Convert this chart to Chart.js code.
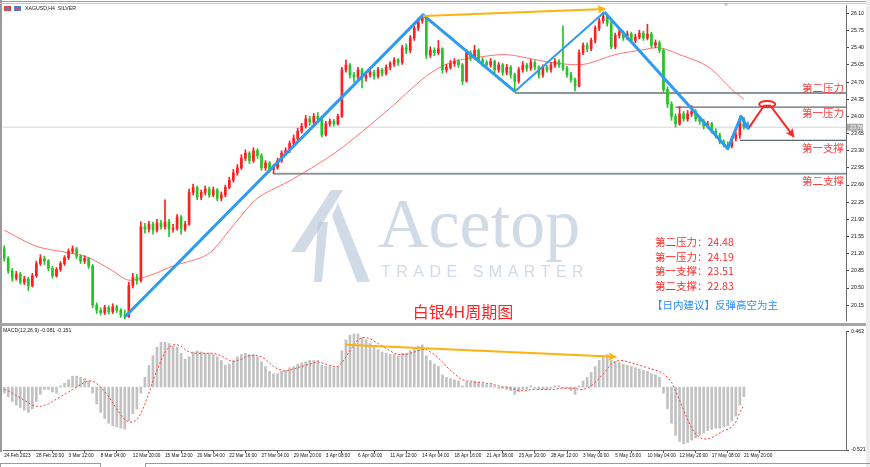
<!DOCTYPE html>
<html><head><meta charset="utf-8">
<script src="https://cdn.jsdelivr.net/npm/chart.js@4.4.1/dist/chart.umd.min.js"></script>
<style>
html,body{margin:0;padding:0;background:#fff;width:870px;height:467px;overflow:hidden}
canvas{position:absolute;left:0}
#c1{top:0}
#c2{top:326px}
</style></head><body>
<canvas id="c1" width="870" height="326"></canvas>
<canvas id="c2" width="870" height="141"></canvas>
<script>
// ---------------- data ----------------
const timeLabels = ["24 Feb 2023","28 Feb 20:00","3 Mar 12:00","8 Mar 04:00","12 Mar 20:00","15 Mar 12:00","20 Mar 04:00","22 Mar 16:00","27 Mar 04:00","29 Mar 20:00","3 Apr 08:00","6 Apr 00:00","11 Apr 12:00","14 Apr 04:00","18 Apr 16:00","21 Apr 08:00","25 Apr 20:00","28 Apr 12:00","3 May 00:00","5 May 16:00","10 May 04:00","12 May 20:00","17 May 08:00","21 May 20:00"];
const labelEvery = 8;
const priceTicks = [20.15,20.50,20.85,21.20,21.55,21.90,22.25,22.60,22.95,23.30,23.65,24.00,24.35,24.70,25.05,25.40,25.75,26.10];
const macdTicks = [-0.521, 0.463];

const opens = [21.30,21.10,20.85,20.70,20.78,20.62,20.68,20.55,20.75,21.00,
21.10,21.05,20.90,20.75,20.88,21.00,21.12,21.25,21.30,21.15,
21.05,21.10,20.95,20.15,20.05,20.00,20.10,20.02,20.12,20.05,
19.95,19.92,20.55,20.72,20.65,21.75,21.70,21.80,21.68,21.82,
21.75,21.85,21.70,21.72,21.95,21.70,21.80,22.45,22.55,22.35,
22.45,22.52,22.40,22.50,22.33,22.40,22.55,22.70,22.85,22.95,
23.15,23.25,23.10,23.30,23.20,22.95,23.05,22.92,22.96,23.10,
23.25,23.30,23.45,23.55,23.70,23.80,23.95,23.88,24.00,23.95,
23.62,23.85,23.90,23.85,24.00,24.95,25.05,24.85,24.80,24.95,
24.78,24.85,24.90,24.82,24.95,24.88,25.00,25.08,25.15,25.10,
25.40,25.35,25.60,25.80,25.95,26.02,25.25,25.35,25.30,25.38,
24.95,25.00,25.08,25.12,25.05,24.72,25.30,25.20,25.35,25.15,
25.10,25.05,25.12,24.95,25.05,24.90,25.00,24.85,24.72,24.95,
25.05,24.98,25.10,25.00,24.85,25.00,24.95,25.05,25.12,25.05,
24.98,24.85,24.75,24.62,25.30,25.45,25.38,25.55,25.80,25.95,
26.05,25.90,25.42,25.65,25.72,25.60,25.68,25.55,25.62,25.70,
25.60,25.68,25.45,25.50,25.35,24.55,24.25,24.00,23.85,24.05,
23.95,24.05,24.10,23.95,23.90,23.80,23.85,23.70,23.62,23.48,
23.42,23.40,23.55,23.62,23.95];
const closes = [21.10,20.85,20.70,20.78,20.62,20.68,20.55,20.75,21.00,21.10,
21.05,20.90,20.75,20.88,21.00,21.12,21.25,21.30,21.15,21.05,
21.10,20.95,20.15,20.05,20.00,20.10,20.02,20.12,20.05,19.95,
19.92,20.55,20.72,20.65,21.75,21.70,21.80,21.68,21.82,21.75,
21.85,21.70,21.72,21.95,21.70,21.80,22.45,22.55,22.35,22.45,
22.52,22.40,22.50,22.33,22.40,22.55,22.70,22.85,22.95,23.15,
23.25,23.10,23.30,23.20,22.95,23.05,22.92,22.96,23.10,23.25,
23.30,23.45,23.55,23.70,23.80,23.95,23.88,24.00,23.95,23.62,
23.85,23.90,23.85,24.00,24.95,25.05,24.85,24.80,24.95,24.78,
24.85,24.90,24.82,24.95,24.88,25.00,25.08,25.15,25.10,25.40,
25.35,25.60,25.80,25.95,26.02,25.25,25.35,25.30,25.38,24.95,
25.00,25.08,25.12,25.05,24.72,25.30,25.20,25.35,25.15,25.10,
25.05,25.12,24.95,25.05,24.90,25.00,24.85,24.72,24.95,25.05,
24.98,25.10,25.00,24.85,25.00,24.95,25.05,25.12,25.05,24.98,
24.85,24.75,24.62,25.30,25.45,25.38,25.55,25.80,25.95,26.05,
25.90,25.42,25.65,25.72,25.60,25.68,25.55,25.62,25.70,25.60,
25.68,25.45,25.50,25.35,24.55,24.25,24.00,23.85,24.05,23.95,
24.05,24.10,23.95,23.90,23.80,23.85,23.70,23.62,23.48,23.42,
23.40,23.55,23.62,23.95,23.78];
const highs = [21.36,21.14,20.90,20.84,20.82,20.74,20.72,20.80,21.05,21.18,
21.15,21.08,20.94,20.92,21.04,21.16,21.30,21.36,21.33,21.18,
21.16,21.12,20.98,20.20,20.10,20.15,20.14,20.18,20.15,20.08,
20.05,20.62,20.80,20.78,21.85,21.82,21.86,21.84,21.90,21.88,
22.30,21.90,21.80,22.00,21.98,21.86,22.52,22.62,22.58,22.50,
22.58,22.56,22.56,22.53,22.46,22.60,22.76,22.92,23.02,23.22,
23.32,23.28,23.36,23.34,23.24,23.10,23.08,23.02,23.15,23.30,
23.36,23.50,23.62,23.76,23.86,24.02,24.00,24.06,24.08,23.98,
23.90,23.95,23.94,24.05,25.00,25.15,25.08,24.90,25.00,24.98,
24.90,24.96,24.94,25.00,24.98,25.05,25.12,25.20,25.18,25.45,
25.48,25.65,25.85,26.00,26.08,26.05,25.42,25.40,25.55,25.40,
25.06,25.14,25.18,25.16,25.08,25.36,25.34,25.45,25.38,25.20,
25.14,25.18,25.15,25.10,25.08,25.06,25.04,24.88,25.00,25.12,
25.08,25.16,25.14,25.03,25.05,25.04,25.10,25.18,25.16,25.85,
25.02,24.90,24.78,25.36,25.50,25.50,25.60,25.85,26.00,26.12,
26.08,25.94,25.70,25.78,25.75,25.74,25.72,25.68,25.76,25.74,
25.88,25.72,25.56,25.54,25.38,24.60,24.30,24.05,24.20,24.10,
24.12,24.22,24.14,24.00,23.94,23.90,23.88,23.75,23.66,23.52,
23.48,23.60,23.68,24.00,23.98];
const lows = [21.05,20.80,20.64,20.66,20.58,20.57,20.45,20.52,20.72,20.96,
20.98,20.85,20.70,20.72,20.84,20.96,21.08,21.20,21.10,21.00,
21.00,20.90,20.10,19.98,19.95,19.96,19.97,19.98,20.00,19.90,
19.87,19.90,20.50,20.58,20.62,21.62,21.64,21.60,21.64,21.70,
21.70,21.55,21.64,21.68,21.60,21.66,21.78,22.40,22.30,22.30,
22.40,22.35,22.36,22.28,22.28,22.36,22.52,22.66,22.80,22.92,
23.10,23.04,23.06,23.14,22.90,22.90,22.86,22.83,22.92,23.06,
23.20,23.26,23.40,23.50,23.66,23.76,23.82,23.84,23.90,23.58,
23.60,23.80,23.80,23.82,23.98,24.90,24.78,24.70,24.76,24.58,
24.72,24.80,24.76,24.78,24.82,24.84,24.95,25.02,25.04,25.06,
25.28,25.30,25.55,25.75,25.90,25.18,25.20,25.24,25.26,24.88,
24.90,24.96,25.02,25.00,24.65,24.70,25.14,25.16,25.10,25.02,
24.98,25.00,24.88,24.90,24.84,24.85,24.78,24.50,24.68,24.90,
24.92,24.94,24.95,24.78,24.80,24.90,24.90,25.00,25.00,24.94,
24.80,24.70,24.52,24.60,25.26,25.32,25.34,25.50,25.75,25.90,
25.84,25.38,25.38,25.60,25.55,25.56,25.50,25.50,25.58,25.55,
25.56,25.40,25.40,25.30,24.50,24.18,23.92,23.78,23.82,23.90,
23.90,24.00,23.90,23.84,23.74,23.76,23.66,23.56,23.44,23.38,
23.33,23.36,23.50,23.55,23.74];

const maIdx = [0,8,16,21,27,31,37,42,49,52,57,63,72,83,95,105,111,119,125,132,136,144,152,159,163,168,175,181,184];
const maVal = [21.68,21.35,21.22,21.12,20.85,20.66,20.78,20.95,21.12,21.28,21.78,22.33,22.73,23.30,24.10,24.82,25.10,25.22,25.26,25.16,25.10,25.06,25.26,25.36,25.40,25.26,25.02,24.55,24.35];

const macdMain = [-0.05,-0.08,-0.12,-0.15,-0.17,-0.19,-0.21,-0.18,-0.12,-0.06,
-0.02,-0.02,-0.04,-0.05,0.01,0.03,0.06,0.09,0.09,0.08,
0.07,0.05,-0.05,-0.14,-0.21,-0.26,-0.30,-0.32,-0.33,-0.34,
-0.35,-0.28,-0.22,-0.18,-0.05,0.08,0.18,0.26,0.33,0.37,
0.37,0.36,0.34,0.33,0.28,0.23,0.25,0.29,0.30,0.29,
0.28,0.28,0.27,0.25,0.22,0.18,0.19,0.22,0.25,0.27,
0.28,0.27,0.27,0.25,0.21,0.17,0.13,0.11,0.11,0.13,
0.14,0.16,0.17,0.19,0.20,0.21,0.22,0.22,0.22,0.18,
0.17,0.17,0.16,0.17,0.30,0.39,0.43,0.44,0.44,0.41,
0.39,0.36,0.33,0.31,0.29,0.28,0.27,0.27,0.26,0.28,
0.28,0.30,0.32,0.34,0.35,0.26,0.22,0.19,0.17,0.10,
0.08,0.07,0.06,0.05,0.01,0.04,0.04,0.05,0.04,0.03,
0.02,0.02,0.01,-0.01,-0.01,-0.02,-0.03,-0.06,-0.04,-0.02,
-0.02,0.01,-0.01,-0.02,-0.02,-0.02,-0.01,0.01,0.01,-0.01,
-0.01,-0.03,-0.06,0.01,0.05,0.08,0.12,0.17,0.22,0.26,
0.27,0.22,0.21,0.20,0.19,0.18,0.17,0.16,0.15,0.14,
0.13,0.11,0.10,0.08,-0.05,-0.18,-0.30,-0.40,-0.45,-0.47,
-0.46,-0.44,-0.42,-0.40,-0.38,-0.36,-0.35,-0.34,-0.34,-0.33,
-0.32,-0.28,-0.24,-0.15,-0.08];
const macdSignal = [-0.02,-0.03,-0.05,-0.07,-0.09,-0.11,-0.13,-0.15,-0.16,-0.16,
-0.15,-0.14,-0.12,-0.10,-0.08,-0.06,-0.04,-0.02,0.00,0.02,
0.04,0.05,0.05,0.03,0.00,-0.04,-0.08,-0.13,-0.18,-0.23,
-0.27,-0.29,-0.29,-0.27,-0.22,-0.14,-0.05,0.05,0.14,0.22,
0.29,0.33,0.35,0.35,0.34,0.31,0.29,0.28,0.28,0.28,
0.28,0.28,0.28,0.27,0.26,0.24,0.22,0.21,0.22,0.23,
0.25,0.26,0.26,0.26,0.25,0.23,0.20,0.17,0.15,0.14,
0.13,0.14,0.15,0.16,0.17,0.18,0.19,0.20,0.21,0.20,
0.19,0.18,0.17,0.17,0.20,0.25,0.30,0.35,0.39,0.41,
0.41,0.40,0.38,0.36,0.34,0.32,0.30,0.28,0.27,0.27,
0.27,0.28,0.29,0.30,0.31,0.31,0.29,0.27,0.24,0.21,
0.17,0.14,0.11,0.08,0.06,0.05,0.05,0.04,0.04,0.04,
0.03,0.03,0.02,0.01,0.00,0.00,-0.01,-0.02,-0.03,-0.03,
-0.03,-0.02,-0.02,-0.02,-0.02,-0.02,-0.02,-0.02,-0.01,-0.01,
-0.01,-0.01,-0.01,-0.02,-0.02,-0.01,0.01,0.04,0.07,0.11,
0.15,0.19,0.21,0.22,0.22,0.21,0.20,0.19,0.18,0.17,
0.16,0.15,0.14,0.13,0.11,0.08,0.04,-0.03,-0.11,-0.19,
-0.27,-0.34,-0.39,-0.42,-0.43,-0.43,-0.42,-0.40,-0.38,-0.36,
-0.35,-0.33,-0.29,-0.21,-0.15];

const levelNames = ["第二压力","第一压力","第一支撑","第二支撑"];
const levelPrices = [24.48,24.19,23.51,22.83];
const levelStartIdx = [127,167,183,67];
const lastPrice = 23.78;

const zigIdx = [30,104.2,127,149.3,180,183.3,185.1];
const zigPrice = [19.91,26.07,24.51,26.13,23.34,24.00,23.75];
const divIdx = [104.2,149.3];
const divPrice = [26.05,26.19];
const macdDivIdx = [85,152];
const macdDivVal = [0.35,0.25];
const planIdx = [185.1,189.0,190.6,196.3];
const planPrice = [23.75,24.22,24.22,23.60];
const targetIdx = 189.8, targetPrice = 24.25;

const symbolTitle = "XAGUSD,H4  SILVER";
const macdTitle = "MACD(12,26,9) -0.081 -0.151";
const chartTitle = "白银4H周期图";
const advice = "【日内建议】反弹高空为主";

// ---------------- chart ----------------
const X_MIN = -0.3, X_MAX = 209.4;
const UP = '#ff1f1f', DN = '#27c427';
const SMALL = '5.2px "Liberation Sans"';
const CJK = '"Noto Sans CJK SC"';
const idx = closes.map((c,k)=>k);
const candleColor = closes.map((c,k)=> c >= opens[k] ? UP : DN);
const pts = (xs, ys) => xs.map((x,i)=>({x:x, y:ys[i]}));

const arrowPlugin = {
  id:'arrows',
  afterDatasetsDraw(chart){
    const c = chart.ctx;
    chart.data.datasets.forEach((ds,i)=>{
      if(!ds.arrowSize) return;
      const p = chart.getDatasetMeta(i).data; const n = p.length;
      const a = p[n-2], b = p[n-1];
      const ang = Math.atan2(b.y-a.y, b.x-a.x);
      const s = ds.arrowSize;
      c.save(); c.fillStyle = ds.borderColor; c.translate(b.x,b.y); c.rotate(ang);
      c.beginPath(); c.moveTo(2,0); c.lineTo(-s,-s*0.6); c.lineTo(-s*0.7,0); c.lineTo(-s,s*0.6); c.closePath(); c.fill();
      c.restore();
    });
  }
};

const mainDeco = {
  id:'mainDeco',
  beforeDatasetsDraw(chart){
    const c = chart.ctx; c.save();
    c.fillStyle = 'rgba(178,195,214,0.6)';
    c.beginPath(); c.moveTo(291,252); c.lineTo(331,190); c.lineTo(343,190); c.lineTo(305,252); c.closePath(); c.fill();
    c.beginPath(); c.moveTo(338,203); c.lineTo(370,282); c.lineTo(357,282); c.lineTo(332,216); c.closePath(); c.fill();
    c.beginPath(); c.moveTo(318,222); c.lineTo(328,222); c.lineTo(322,282); c.lineTo(314,282); c.closePath(); c.fill();
    c.font = '70px "Liberation Serif"'; c.textBaseline = 'alphabetic';
    c.fillText('Acetop', 378, 247);
    c.font = '16px "Liberation Sans"';
    c.letterSpacing = '5.5px';
    c.fillText('TRADE SMARTER', 381, 277);
    c.letterSpacing = '0px';
    c.restore();
  },
  afterDraw(chart){
    const c = chart.ctx, ys = chart.scales.y;
    c.save();
    c.fillStyle = '#9a9a9a'; c.fillRect(0,1,866,1); c.fillRect(0,0,2,326);
    c.fillStyle = '#c9c9c9'; c.fillRect(0,3,866,1);
    c.fillStyle = '#a6a6a6'; c.fillRect(0,323,866,3);
    c.fillStyle = '#ececec'; c.fillRect(866,0,4,326);
    c.fillStyle = '#e24a4a'; c.fillRect(4,6,7,5); c.fillStyle = '#4c7fd6'; c.fillRect(6,7,3,3);
    c.fillStyle = '#4c7fd6'; c.fillRect(14,6,7,5); c.fillStyle = '#e24a4a'; c.fillRect(16,7,3,3);
    c.fillStyle = '#bdbdbd'; c.beginPath(); c.moveTo(723,3); c.lineTo(729,3); c.lineTo(726,6); c.closePath(); c.fill();
    c.fillStyle = '#222'; c.font = SMALL; c.textBaseline = 'middle'; c.textAlign = 'left';
    c.fillText(symbolTitle, 25, 9);
    const py = ys.getPixelForValue(lastPrice);
    c.fillStyle = '#a9a9a9'; c.fillRect(847, py-3.5, 16, 7);
    c.fillStyle = '#fff'; c.fillText(lastPrice.toFixed(2), 850, py);
    const offs = [-5, 6, 8, 7];
    c.fillStyle = '#ff3b3b'; c.font = '10.5px ' + CJK; c.textAlign = 'right';
    levelNames.forEach((n,i)=> c.fillText(n, 844, ys.getPixelForValue(levelPrices[i]) + offs[i]));
    const ex = chart.scales.x.getPixelForValue(targetIdx), ey = ys.getPixelForValue(targetPrice);
    c.strokeStyle = '#ff2424'; c.lineWidth = 2; c.beginPath(); c.ellipse(ex, ey, 8, 3.2, 0, 0, Math.PI*2); c.stroke();
    c.textAlign = 'left'; c.font = '10.5px ' + CJK; c.fillStyle = '#ff2d2d';
    levelNames.forEach((n,i)=> c.fillText(n + '：' + levelPrices[i].toFixed(2), 655, 242 + i*14.7));
    c.fillStyle = '#2b8ef5'; c.fillText(advice, 652, 305);
    c.fillStyle = '#ff2424'; c.font = '16px ' + CJK; c.textAlign = 'center';
    c.fillText(chartTitle, 463, 312);
    c.restore();
  }
};

const lineDs = (data, color, width, order, extra) => Object.assign({
  type:'line', data:data, borderColor:color, borderWidth:width, pointRadius:0, fill:false, order:order, tension:0
}, extra || {});

const mainDatasets = [
  lineDs([{x:X_MIN,y:lastPrice},{x:X_MAX,y:lastPrice}], '#d4d4d4', 1, 20),
  ...levelPrices.map((p,i)=> lineDs([{x:levelStartIdx[i],y:p},{x:X_MAX,y:p}], (i===0||i===3)?'#8d969e':'#5d6872', (i===0||i===3)?2:1.2, 19)),
  lineDs(pts(maIdx, maVal), 'rgba(255,70,70,0.75)', 1, 18, {tension:0.3}),
  { type:'bar', data: idx.map(k=>({x:k, y:[lows[k], highs[k]]})), backgroundColor:candleColor, barThickness:1, grouped:false, order:17 },
  { type:'bar', data: idx.map(k=>({x:k, y:[opens[k], closes[k]]})), backgroundColor:candleColor, barThickness:2, grouped:false, order:16 },
  lineDs(pts(zigIdx, zigPrice), '#2d9bf0', 3, 3, {arrowSize:7, segment:{borderWidth: ctx => ctx.p0DataIndex===2 ? 2 : 3}, borderJoinStyle:'round'}),
  lineDs(pts(divIdx, divPrice), '#ffb20f', 2, 2, {arrowSize:7}),
  lineDs(pts(planIdx, planPrice), '#ff2424', 2, 1, {arrowSize:7})
];

new Chart(document.getElementById('c1'), {
  type:'bar',
  data:{ datasets: mainDatasets },
  options:{
    responsive:false, animation:false, events:[],
    layout:{ padding:{left:3, top:5, right:0, bottom:3}, autoPadding:false },
    plugins:{ legend:{display:false}, tooltip:{enabled:false} },
    scales:{
      x:{ type:'linear', min:X_MIN, max:X_MAX, display:false, offset:false },
      y:{ position:'right', min:19.83, max:26.27,
          afterBuildTicks: s => { s.ticks = priceTicks.map(v=>({value:v})); },
          afterFit: s => { s.width = 24; },
          ticks:{ font:{size:5.2, family:'Liberation Sans'}, color:'#111', padding:2, autoSkip:false, callback: v => Number(v).toFixed(2) },
          grid:{ drawOnChartArea:false, tickLength:3, color:'#444' },
          border:{ color:'#6e6e6e' } }
    }
  },
  plugins:[mainDeco, arrowPlugin]
});

const macdDeco = {
  id:'macdDeco',
  afterDraw(chart){
    const c = chart.ctx; c.save();
    c.fillStyle = '#9a9a9a'; c.fillRect(0,0,2,126);
    c.fillStyle = '#ececec'; c.fillRect(866,0,4,141);
    c.fillStyle = '#222'; c.font = SMALL; c.textBaseline = 'middle'; c.textAlign = 'left';
    c.fillText(macdTitle, 3, 5);
    c.strokeStyle = '#9a9a9a'; c.lineWidth = 1;
    c.strokeRect(0.5, 137.5, 100, 6); c.strokeRect(145.5, 137.5, 740, 6);
    c.restore();
  }
};

new Chart(document.getElementById('c2'), {
  type:'bar',
  data:{ datasets:[
    { type:'bar', data: idx.map(k=>({x:k, y:macdMain[k]})), backgroundColor:'#c2c2c2', barThickness:2, grouped:false, order:5 },
    lineDs(pts(idx, macdSignal), '#ff3a3a', 1, 2, {borderDash:[2,2]}),
    lineDs(pts(macdDivIdx, macdDivVal), '#ffb20f', 2, 1, {arrowSize:7})
  ]},
  options:{
    responsive:false, animation:false, events:[],
    layout:{ padding:{left:3, top:1, right:0, bottom:0}, autoPadding:false },
    plugins:{ legend:{display:false}, tooltip:{enabled:false} },
    scales:{
      x:{ type:'linear', min:X_MIN, max:X_MAX, offset:false, position:'bottom',
          afterBuildTicks: s => { s.ticks = timeLabels.map((t,i)=>({value:i*labelEvery})); },
          afterFit: s => { s.height = 17; },
          ticks:{ font:{size:4.7, family:'Liberation Sans'}, color:'#111', padding:0, align:'start', maxRotation:0, autoSkip:false,
                  callback: (v,i) => timeLabels[i] },
          grid:{ drawOnChartArea:false, tickLength:3, color:'#555' },
          border:{ color:'#6e6e6e' } },
      y:{ position:'right', min:-0.521, max:0.463,
          afterBuildTicks: s => { s.ticks = macdTicks.map(v=>({value:v})); },
          afterFit: s => { s.width = 24; },
          ticks:{ font:{size:5.2, family:'Liberation Sans'}, color:'#111', padding:2, autoSkip:false, callback: v => Number(v).toFixed(3) },
          grid:{ drawOnChartArea:false, tickLength:3, color:'#444' },
          border:{ color:'#6e6e6e' } }
    }
  },
  plugins:[macdDeco, arrowPlugin]
});
</script>
</body></html>
